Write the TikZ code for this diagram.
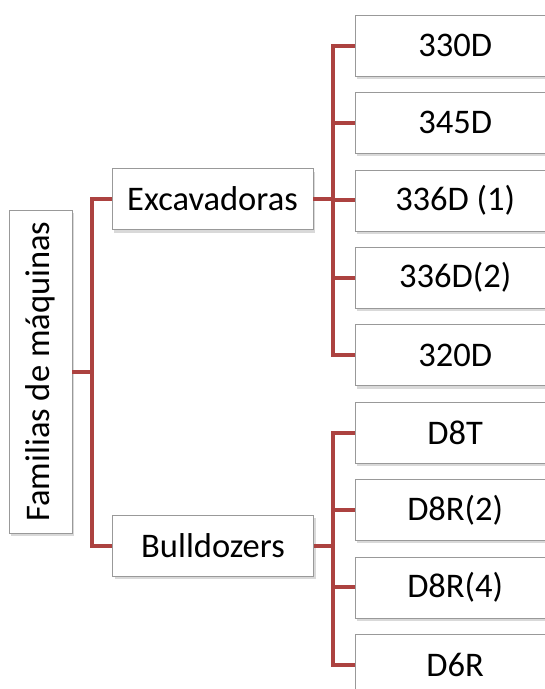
\documentclass[tikz,border=0pt]{standalone}
\usepackage{fontspec}
\setmainfont{Carlito}
\usetikzlibrary{shadows,positioning}
\definecolor{branchred}{RGB}{172,66,64}

\begin{document}
\begin{tikzpicture}[x=1pt,y=-1pt,
    box/.style={draw=black!40, fill=white, inner sep=0pt, minimum height=61pt,
      font=\fontsize{34.5}{38}\selectfont,
      drop shadow={shadow xshift=2pt, shadow yshift=-3pt, opacity=0.3}},
    leaf/.style={box, minimum width=200pt, anchor=west},
    branch/.style={draw=branchred, line width=4pt}]
  \clip (0,0) rectangle (545,689);

  % Root and the two families
  \node[box, rotate=90, minimum width=323pt, minimum height=63pt] (root) at (40.5,371.5) {Familias de máquinas};
  \node[box, minimum width=201pt] (exc) at (212.5,199) {Excavadoras};
  \node[box, minimum width=201pt] (bull) at (213,545.5) {Bulldozers};

  % Machines
  \node[leaf] (m1) at (355,45.5) {330D};
  \foreach \name [count=\i from 2, remember=\i as \j (initially 1)] in
      {345D, 336D (1), 336D(2), 320D, D8T, D8R(2), D8R(4), D6R}
    \node[leaf, below=16pt of m\j] (m\i) {\name};

  % Brackets
  \draw[branch] (root.south) -- ++(20,0) coordinate (rj);
  \draw[branch] (rj) |- (exc.west);
  \draw[branch] (rj) |- (bull.west);
  \draw[branch] (exc.east) -- ++(20,0) coordinate (ej);
  \foreach \i in {1,...,5}
    \draw[branch] (ej) |- (m\i.west);
  \draw[branch] (bull.east) -- ++(19,0) coordinate (bj);
  \foreach \i in {6,...,9}
    \draw[branch] (bj) |- (m\i.west);
\end{tikzpicture}
\end{document}
